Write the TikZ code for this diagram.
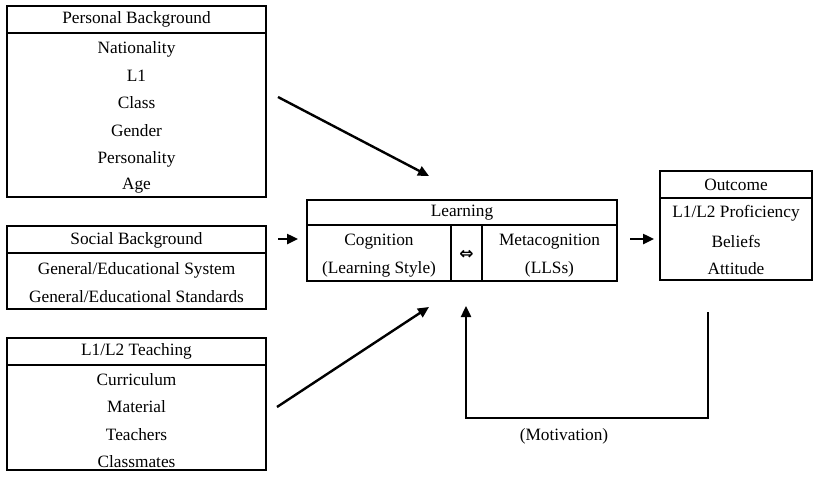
\documentclass[tikz,border=0pt]{standalone}
\usepackage{fontspec}
\setmainfont{Liberation Serif}
\newfontfamily\symfont{DejaVu Sans}
\usetikzlibrary{arrows.meta}
\begin{document}
\begin{tikzpicture}[x=1pt,y=-1pt,
  box/.style={draw,line width=1.8pt,inner sep=0pt},
  txt/.style={inner sep=0pt,anchor=center,font=\fontsize{17.3}{19}\selectfont},
  conn/.style={line width=2.4pt,-{Triangle[length=11pt,width=10pt]}}]
\useasboundingbox (0,0) rectangle (815,477);
% Personal Background
\node[box,minimum width=259pt,minimum height=191pt] (pb) at (136.5,101.5) {};
\draw[line width=1.8pt] (7,33) -- (266,33);
\node[txt] (pbh) at (136.5,19.5) {Personal Background};
\node[txt] (pb1) at (136.5,49) {Nationality};
\node[txt] (pb2) at (136.5,76) {L1};
\node[txt] (pb3) at (136.5,103) {Class};
\node[txt] (pb4) at (136.5,131) {Gender};
\node[txt] (pb5) at (136.5,159) {Personality};
\node[txt] (pb6) at (136.5,186) {Age};
% Social Background
\node[box,minimum width=259pt,minimum height=83pt] (sb) at (136.5,267.5) {};
\draw[line width=1.8pt] (7,253) -- (266,253);
\node[txt] (sbh) at (136.5,240) {Social Background};
\node[txt] (sb1) at (136.5,270) {General/Educational System};
\node[txt] (sb2) at (136.5,297) {General/Educational Standards};
% L1/L2 Teaching
\node[box,minimum width=259pt,minimum height=132pt] (tb) at (136.5,404) {};
\draw[line width=1.8pt] (7,365) -- (266,365);
\node[txt] (tbh) at (136.5,351) {L1/L2 Teaching};
\node[txt] (tb1) at (136.5,380) {Curriculum};
\node[txt] (tb2) at (136.5,407) {Material};
\node[txt] (tb3) at (136.5,435) {Teachers};
\node[txt] (tb4) at (136.5,462) {Classmates};
% Learning
\node[box,minimum width=310pt,minimum height=81pt] (lb) at (462,240.5) {};
\draw[line width=1.8pt] (307,225) -- (617,225);
\draw[line width=1.8pt] (451,225) -- (451,281);
\draw[line width=1.8pt] (482,225) -- (482,281);
\node[txt] (lbh) at (462,212.5) {Learning};
\node[txt] (lb1) at (379,242) {Cognition};
\node[txt] (lb2) at (379,269) {(Learning Style)};
\node[txt,font=\symfont\bfseries\fontsize{17}{19}\selectfont] (lb3) at (466.5,255) {⇔};
\node[txt] (lb4) at (549.5,242) {Metacognition};
\node[txt] (lb5) at (549.5,269) {(LLSs)};
% Outcome
\node[box,minimum width=152pt,minimum height=109pt] (ob) at (736,225.5) {};
\draw[line width=1.8pt] (660,198) -- (812,198);
\node[txt] (obh) at (736,184.5) {Outcome};
\node[txt] (ob1) at (736,213) {L1/L2 Proficiency};
\node[txt] (ob2) at (736,241) {Beliefs};
\node[txt] (ob3) at (736,269) {Attitude};
% connectors
\coordinate (a1s) at (278,97);
\coordinate (a1e) at (429,176);
\coordinate (a2s) at (278,239);
\coordinate (a2e) at (298,239);
\coordinate (a3s) at (277,407);
\coordinate (a3e) at (429,307);
\coordinate (a4s) at (630,239);
\coordinate (a4e) at (654,239);
\coordinate (fbs) at (708,312);
\coordinate (fbc1) at (708,418);
\coordinate (fbc2) at (466,418);
\coordinate (fbe) at (466,306);
\draw[conn] (a1s) -- (a1e);
\draw[conn] (a2s) -- (a2e);
\draw[conn] (a3s) -- (a3e);
\draw[conn] (a4s) -- (a4e);
\draw[conn] (fbs) -- (fbc1) -- (fbc2) -- (fbe);
\node[txt] (mot) at (564,436) {(Motivation)};
\end{tikzpicture}
\end{document}
